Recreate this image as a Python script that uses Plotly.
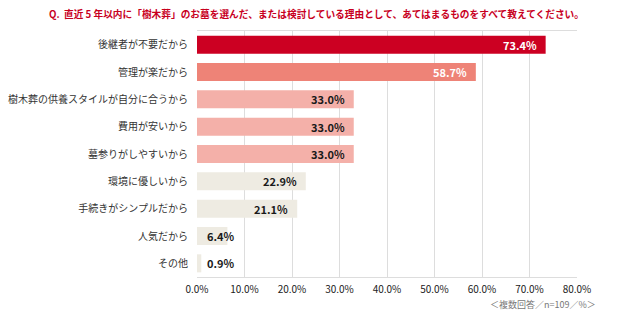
import plotly.graph_objects as go

categories = [
    "後継者が不要だから",
    "管理が楽だから",
    "樹木葬の供養スタイルが自分に合うから",
    "費用が安いから",
    "墓参りがしやすいから",
    "環境に優しいから",
    "手続きがシンプルだから",
    "人気だから",
    "その他",
]
values = [73.4, 58.7, 33.0, 33.0, 33.0, 22.9, 21.1, 6.4, 0.9]
bar_colors = ["#CC0022", "#EE8377", "#F4B0A9", "#F4B0A9", "#F4B0A9",
              "#EEEBE2", "#EEEBE2", "#EEEBE2", "#EEEBE2"]
label_colors = ["#FFFFFF", "#FFFFFF", "#1a1a1a", "#1a1a1a", "#1a1a1a",
                "#1a1a1a", "#1a1a1a", "#1a1a1a", "#1a1a1a"]
tick_vals = [0, 10, 20, 30, 40, 50, 60, 70, 80]
tick_text = ["0.0%", "10.0%", "20.0%", "30.0%", "40.0%", "50.0%", "60.0%", "70.0%", "80.0%"]
title_text = "Q.  直近 5 年以内に「樹木葬」のお墓を選んだ、または検討している理由として、あてはまるものをすべて教えてください。"
note_text = "＜複数回答／n=109／%＞"

FONT = "Noto Sans CJK JP"

L, R, T, B = 197, 45, 31, 45
W, H = 622, 322
plot_w = W - L - R
plot_h = H - T - B

fig = go.Figure(go.Bar(
    x=values,
    y=categories,
    orientation="h",
    marker=dict(color=bar_colors, line=dict(width=0)),
    hoverinfo="skip",
))

annotations = []
for cat, v, c in zip(categories, values, label_colors):
    if v >= 10:
        annotations.append(dict(x=v, y=cat, xref="x", yref="y", text=f"<b>{v:.1f}%</b>",
                                showarrow=False, xanchor="right", xshift=-7,
                                font=dict(family=FONT, size=11, color=c)))
    else:
        annotations.append(dict(x=0, y=cat, xref="x", yref="y", text=f"<b>{v:.1f}%</b>",
                                showarrow=False, xanchor="left", xshift=8,
                                font=dict(family=FONT, size=11, color=c)))

annotations.append(dict(x=(316 - L) / plot_w, y=1 + (T - 14) / plot_h,
                        xref="paper", yref="paper", text=f"<b>{title_text}</b>",
                        showarrow=False, xanchor="center", yanchor="middle",
                        font=dict(family=FONT, size=9.7, color="#C8001E")))
annotations.append(dict(x=(598 - L) / plot_w, y=-(304 - (H - B)) / plot_h,
                        xref="paper", yref="paper", text=note_text,
                        showarrow=False, xanchor="right", yanchor="middle",
                        font=dict(family=FONT, size=9, color="#777777")))

fig.update_layout(
    width=W, height=H,
    margin=dict(l=L, r=R, t=T, b=B),
    paper_bgcolor="white", plot_bgcolor="white",
    bargap=0.34,
    showlegend=False,
    annotations=annotations,
    font=dict(family=FONT, size=10, color="#333333"),
    xaxis=dict(range=[0, 80], tickvals=tick_vals, ticktext=tick_text,
               showgrid=True, gridcolor="#DDDDDD", gridwidth=1,
               showline=True, linecolor="#DDDDDD", mirror=True,
               zeroline=False, ticks="", ticklabelstandoff=3,
               tickfont=dict(size=10, color="#222222"),
               automargin=False, fixedrange=True),
    yaxis=dict(autorange="reversed", showgrid=False, showline=False, zeroline=False,
               ticks="", ticklabelstandoff=8,
               tickfont=dict(size=10, color="#333333"),
               automargin=False, fixedrange=True),
)

fig.write_html("out.html")
